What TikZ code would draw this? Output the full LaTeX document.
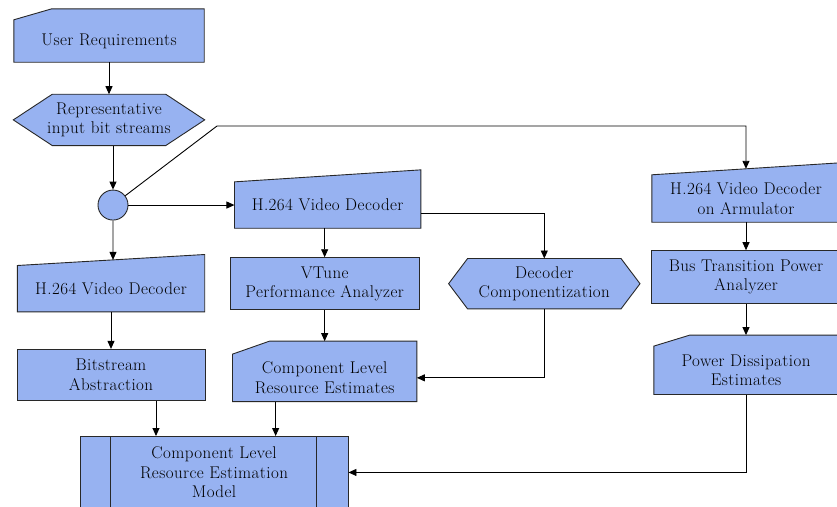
\documentclass[tikz,border=0pt]{standalone}
\usepackage{fontspec}
\setmainfont{Latin Modern Roman}[LetterSpace=2.5]
\usepackage{tikz}
\usetikzlibrary{arrows.meta,positioning,backgrounds,calc}
\definecolor{flowblue}{RGB}{151,178,241}
\definecolor{flowdark}{RGB}{40,40,40}

\begin{document}
\begin{tikzpicture}[
    x=1pt, y=-1pt,
    every node/.style={font=\fontsize{17}{19.5}\selectfont, align=center},
    procbox/.style={rectangle, draw=flowdark, fill=flowblue, line width=0.9pt, minimum width=188pt, minimum height=51pt},
    holder/.style={rectangle, inner sep=2pt, minimum width=188pt, minimum height=47pt},
    jointdot/.style={circle, draw=flowdark, fill=flowblue, line width=0.9pt, minimum size=30pt, inner sep=0pt},
    outline/.style={draw=flowdark, fill=flowblue, line width=0.9pt},
    arr/.style={-{Triangle[length=8pt, width=7pt]}, line width=0.9pt, draw=black}
]
\useasboundingbox (0,0) rectangle (837,506);
\clip (0,0) rectangle (837,506);

\node[holder, minimum width=190pt, minimum height=42pt] (ureq) at (109,41) {User Requirements};
\node[holder, minimum width=191pt, minimum height=51pt, below=32pt of ureq] (rep) {Representative\\input bit streams};
\node[jointdot, below=44pt of rep, xshift=4pt] (joint) {};
\node[holder, minimum width=186pt, minimum height=46pt, right=106pt of joint] (dech) {H.264 Video Decoder};
\node[holder, minimum width=187pt, minimum height=46pt, below=45pt of joint, xshift=-2pt] (decl) {H.264 Video Decoder};
\node[procbox, below=37pt of decl] (bits) {Bitstream\\Abstraction};
\node[procbox, minimum width=189pt, minimum height=52pt, below=29pt of dech, xshift=-3pt] (vtune) {VTune\\Performance Analyzer};
\node[holder, minimum width=191pt, minimum height=50pt, right=29pt of vtune] (comp) {Decoder\\Componentization};
\node[holder, minimum width=184pt, minimum height=47pt, below=44pt of vtune] (clre) {Component Level\\Resource Estimates};
\node[procbox, minimum width=268pt, minimum height=72pt, anchor=north] (model) at (214,436) {Component Level\\Resource Estimation\\Model};
\node[holder, minimum height=47pt] (arm) at (746,198.5) {H.264 Video Decoder\\on Armulator};
\node[procbox, minimum width=189pt, minimum height=53pt, below=28pt of arm] (bus) {Bus Transition Power\\Analyzer};
\node[holder, minimum width=184pt, minimum height=48pt, below=42pt of bus] (power) {Power Dissipation\\Estimates};

\coordinate (declrise) at ($(decl.north east)+(0,-11)$);
\coordinate (armrise) at ($(arm.north east)+(0,-12)$);
\coordinate (clretop) at ($(clre.north east)+(0,-13)$);
\coordinate (powertop) at ($(power.north east)+(0,-11)$);
\coordinate (bend) at (217,126);
\coordinate (bitsout) at ($(bits.south)+(45,0)$);
\coordinate (clreout) at ($(clre.south)+(-49,0)$);

\begin{scope}[on background layer]
  \clip (0,0) rectangle (837,506);
  \foreach \n/\r in {dech/12, decl/11, arm/12}
    \filldraw[outline] (\n.south west) -- (\n.north west) -- ($(\n.north east)+(0,-\r)$) -- (\n.south east) -- cycle;
  \foreach \n/\c/\r in {ureq/38/11, clre/37/13, power/36/11}
    \filldraw[outline] (\n.south west) -- (\n.north west) -- ($(\n.north west)+(\c,-\r)$) -- ($(\n.north east)+(0,-\r)$) -- (\n.south east) -- cycle;
  \foreach \n/\c in {rep/39, comp/19}
    \filldraw[outline] (\n.west) -- ($(\n.north west)+(\c,0)$) -- ($(\n.north east)+(-\c,0)$) -- (\n.east) -- ($(\n.south east)+(-\c,0)$) -- ($(\n.south west)+(\c,0)$) -- cycle;
\end{scope}

\draw[draw=flowdark, line width=0.9pt] ($(model.north west)+(31,0)$) -- ($(model.south west)+(31,0)$);
\draw[draw=flowdark, line width=0.9pt] ($(model.north east)+(-32,0)$) -- ($(model.south east)+(-32,0)$);

\draw[arr] (ureq.south) -- (ureq.south |- rep.north);
\draw[arr] (rep.south -| joint) -- (joint);
\draw[arr] (joint) -- (dech);
\draw[arr] (joint) -- (intersection of joint--joint.south and decl.north west--declrise);
\draw[arr] (joint) -- (bend) -| (intersection of arm.north--arm.south and arm.north west--armrise);
\draw[arr] (dech.south -| vtune) -- (vtune.north);
\draw[arr] ($(dech.east)+(0,8)$) -| (comp.north);
\draw[arr] (vtune.south) -- (vtune.south |- clretop);
\draw[arr] (comp.south) |- (clre.east);
\draw[arr] (decl.south) -- (decl.south |- bits.north);
\draw[arr] (bitsout) -- (bitsout |- model.north);
\draw[arr] (clreout) -- (clreout |- model.north);
\draw[arr] (power.south) |- (model.east);
\draw[arr] (arm.south) -- (arm.south |- bus.north);
\draw[arr] (bus.south) -- (bus.south |- powertop);

\end{tikzpicture}
\end{document}
